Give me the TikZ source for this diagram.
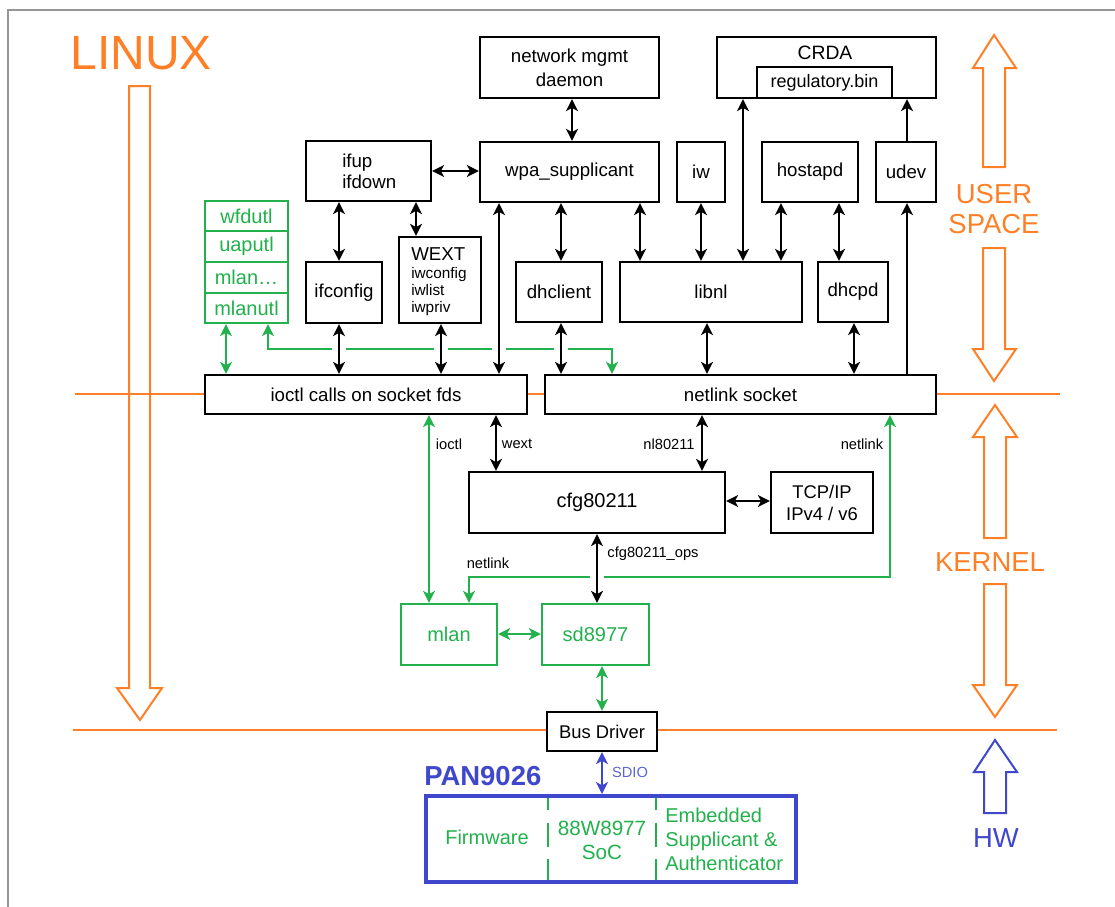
\documentclass[tikz,border=0pt]{standalone}
\usepackage{fontspec}
\setmainfont{Liberation Sans}
\usetikzlibrary{arrows.meta,fit}
\definecolor{org}{RGB}{255,127,39}
\definecolor{grn}{RGB}{34,177,76}
\definecolor{blu}{RGB}{63,72,204}
\definecolor{brd}{RGB}{150,150,150}
\begin{document}
\begin{tikzpicture}[x=0.75pt,y=-0.75pt,
  >={Stealth[length=9pt,width=9pt,inset=2.5pt]},
  box/.style={draw, line width=1.7pt, fill=white, inner sep=0pt},
  gbox/.style={box, draw=grn},
  btxt/.style={inner sep=0pt, align=center, font=\fontsize{14}{16.5}\selectfont},
  gtxt/.style={btxt, text=grn, font=\fontsize{15}{18}\selectfont},
  arr/.style={line width=1.5pt, <->},
  garr/.style={arr, grn},
  xgap/.style={preaction={draw=white, line width=10pt, -, shorten >=5pt, shorten <=5pt}},
  lbl/.style={font=\fontsize{11}{13}\selectfont, inner sep=0pt},
  side/.style={text=org, font=\fontsize{20.6}{23}\selectfont, align=center, inner sep=0pt},
  oarr/.style={draw=org, line width=1.5pt, line join=miter},
  barr/.style={draw=blu, line width=1.5pt, line join=miter},
  txt/.style={inner sep=0pt}
]
\useasboundingbox (0,0) rectangle (1115,907);
% frame
\draw[brd, line width=1.2pt] (8,907) -- (8,10) -- (1115,10);
% layer lines
\draw[org, line width=1.9pt] (75,394) -- (1060,394);
\draw[org, line width=1.9pt] (73,730) -- (1057,730);
% LINUX
\node[txt, text=org, font=\fontsize{36}{42}\selectfont] (linux) at (141,53) {LINUX};
\draw[oarr] (129,86) -- (150,86) -- (150,688) -- (162,688) -- (140,720) -- (117,688) -- (129,688) -- cycle;
% right side arrows
\draw[oarr] (983,167) -- (983,68) -- (973,68) -- (994,35) -- (1016,68) -- (1005,68) -- (1005,167) -- cycle;
\draw[oarr] (983,248) -- (1005,248) -- (1005,349) -- (1016,349) -- (994,381) -- (973,349) -- (983,349) -- cycle;
\node[side] (us) at (994,209) {USER\\SPACE};
\draw[oarr] (984,538) -- (984,437) -- (973,437) -- (995,405) -- (1017,437) -- (1006,437) -- (1006,538) -- cycle;
\node[side] (kern) at (990,562) {KERNEL};
\draw[oarr] (984,584) -- (1006,584) -- (1006,685) -- (1017,685) -- (995,717) -- (973,685) -- (984,685) -- cycle;
\draw[barr] (984,813) -- (984,772) -- (974,772) -- (995,740) -- (1017,772) -- (1006,772) -- (1006,813) -- cycle;
\node[side, text=blu] (hw) at (996,838) {HW};
% user space boxes
\node[box, fit={(480,37)(659,98)}] (nm) {};
\node[btxt, font=\fontsize{14}{18}\selectfont] at (nm.center) {network mgmt\\daemon};
\node[box, fit={(717,37)(936,98)}] (crda) {};
\node[box, fit={(757,67)(892,98)}] (reg) {};
\node[btxt, font=\fontsize{13.5}{16}\selectfont] at (reg.center) {regulatory.bin};
\node[btxt, font=\fontsize{14.5}{17}\selectfont] (crdat) at (825,53) {CRDA};
\node[box, fit={(306,141)(431,201)}] (ifup) {};
\node[btxt, align=left, anchor=west, font=\fontsize{14}{15.75}\selectfont] (ifupt) at (342,171) {ifup\\ifdown};
\node[box, fit={(480,142)(659,202)}] (wpa) {};
\node[btxt] at (wpa.center) {wpa\_supplicant};
\node[box, fit={(677,142)(725,202)}] (iw) {};
\node[btxt] at (iw.center) {iw};
\node[box, fit={(762,142)(858,202)}] (hostapd) {};
\node[btxt] at (hostapd.center) {hostapd};
\node[box, fit={(876,142)(936,202)}] (udev) {};
\node[btxt] at (udev.center) {udev};
\node[gbox, fit={(205,201)(288,231)}] (s1) {};
\node[gtxt] at (s1.center) {wfdutl};
\node[gbox, fit={(205,231)(288,262)}] (s2) {};
\node[gtxt] at (s2.center) {uaputl};
\node[gbox, fit={(205,262)(288,293)}] (s3) {};
\node[gtxt] at (s3.center) {mlan…};
\node[gbox, fit={(205,293)(288,323)}] (s4) {};
\node[gtxt] at (s4.center) {mlanutl};
\node[box, fit={(306,262)(382,323)}] (ifcfg) {};
\node[btxt] at (ifcfg.center) {ifconfig};
\node[box, fit={(399,237)(481,323)}] (wext) {};
\node[txt, anchor=base west, font=\fontsize{14}{16}\selectfont] (w1) at (411,260) {WEXT};
\node[txt, anchor=base west, font=\fontsize{11.5}{13.5}\selectfont] (w2) at (411,278) {iwconfig};
\node[txt, anchor=base west, font=\fontsize{11.5}{13.5}\selectfont] (w3) at (411,295) {iwlist};
\node[txt, anchor=base west, font=\fontsize{11.5}{13.5}\selectfont] (w4) at (411,312) {iwpriv};
\node[box, fit={(516,262)(602,322)}] (dhc) {};
\node[btxt] at (dhc.center) {dhclient};
\node[box, fit={(620,262)(802,322)}] (libnl) {};
\node[btxt] at (libnl.center) {libnl};
\node[box, fit={(818,262)(888,322)}] (dhcpd) {};
\node[btxt] at (dhcpd.center) {dhcpd};
\node[box, fit={(205,375)(527,414)}] (ioctl) {};
\node[btxt] at (ioctl.center) {ioctl calls on socket fds};
\node[box, fit={(545,375)(936,414)}] (nl) {};
\node[btxt] at (nl.center) {netlink socket};
% kernel
\node[box, fit={(469,472)(725,533)}] (cfg) {};
\node[btxt, font=\fontsize{15}{18}\selectfont] at (cfg.center) {cfg80211};
\node[box, fit={(771,472)(873,533)}] (tcp) {};
\node[btxt, font=\fontsize{13.8}{16.5}\selectfont] at (tcp.center) {TCP/IP\\IPv4 / v6};
\node[gbox, fit={(401,604)(497,665)}] (mlan) {};
\node[gtxt] at (mlan.center) {mlan};
\node[gbox, fit={(542,604)(649,665)}] (sd) {};
\node[gtxt] at (sd.center) {sd8977};
\node[box, fit={(547,712)(657,751)}] (bus) {};
\node[btxt, font=\fontsize{13.8}{16}\selectfont] at (bus.center) {Bus Driver};
% hardware
\node[txt, anchor=west, text=blu, font=\bfseries\fontsize{20.6}{23}\selectfont] (pant) at (424,776) {PAN9026};
\node[draw=blu, line width=3pt, fill=white, inner sep=0pt, fit={(426,796)(796,882)}] (pan) {};
\draw[grn, line width=1.7pt, dash pattern=on 18pt off 9.5pt, dash phase=9pt] (548,798) -- (548,880);
\draw[grn, line width=1.7pt, dash pattern=on 18pt off 9.5pt, dash phase=9pt] (656,798) -- (656,880);
\node[gtxt] (fw) at (487,837) {Firmware};
\node[gtxt, font=\fontsize{15.5}{18}\selectfont] (soc) at (602,840) {88W8977\\SoC};
\node[gtxt, align=left, anchor=west] (emb) at (665,839) {Embedded\\Supplicant \&\\Authenticator};
% green connectors
\draw[garr] (226,0 |- s4.south) -- (226,0 |- ioctl.north);
\draw[garr] (268,0 |- s4.south) -- (268,349) -| (612,0 |- nl.north);
\draw[garr] (429,0 |- ioctl.south) -- (429,0 |- mlan.north);
\draw[garr] (890,0 |- nl.south) |- (469,577) -- (469,0 |- mlan.north);
\draw[garr] (mlan.east |- 0,634) -- (sd.west |- 0,634);
\draw[garr] (602,0 |- sd.south) -- (602,0 |- bus.north);
\draw[arr, blu] (602,0 |- bus.south) -- (602,0 |- pan.north);
% black connectors
\draw[arr] (572,0 |- nm.south) -- (572,0 |- wpa.north);
\draw[arr] (ifup.east) -- (ifup.east -| wpa.west);
\draw[arr] (339,0 |- ifup.south) -- (339,0 |- ifcfg.north);
\draw[arr] (416,0 |- ifup.south) -- (416,0 |- wext.north);
\draw[arr, xgap] (499,0 |- wpa.south) -- (499,0 |- ioctl.north);
\draw[arr] (561,0 |- wpa.south) -- (561,0 |- dhc.north);
\draw[arr] (640,0 |- wpa.south) -- (640,0 |- libnl.north);
\draw[arr] (701,0 |- iw.south) -- (701,0 |- libnl.north);
\draw[arr] (743,0 |- crda.south) -- (743,0 |- libnl.north);
\draw[arr] (781,0 |- hostapd.south) -- (781,0 |- libnl.north);
\draw[arr] (839,0 |- hostapd.south) -- (839,0 |- dhcpd.north);
\draw[line width=1.5pt, ->] (907,0 |- udev.north) -- (907,0 |- crda.south);
\draw[line width=1.5pt, ->] (907,0 |- nl.north) -- (907,0 |- udev.south);
\draw[arr, xgap] (339,0 |- ifcfg.south) -- (339,0 |- ioctl.north);
\draw[arr, xgap] (441,0 |- wext.south) -- (441,0 |- ioctl.north);
\draw[arr, xgap] (561,0 |- dhc.south) -- (561,0 |- nl.north);
\draw[arr] (707,0 |- libnl.south) -- (707,0 |- nl.north);
\draw[arr] (854,0 |- dhcpd.south) -- (854,0 |- nl.north);
\draw[arr] (496,0 |- ioctl.south) -- (496,0 |- cfg.north);
\draw[arr] (702,0 |- nl.south) -- (702,0 |- cfg.north);
\draw[arr] (cfg.east |- 0,501) -- (tcp.west |- 0,501);
\draw[arr, xgap] (597,0 |- cfg.south) -- (597,0 |- sd.north);
% labels
\node[lbl] (l1) at (449,444) {ioctl};
\node[lbl] (l2) at (517,444) {wext};
\node[lbl] (l3) at (669,444) {nl80211};
\node[lbl] (l4) at (862,444) {netlink};
\node[lbl] (l5) at (488,563) {netlink};
\node[lbl] (l6) at (653,554) {cfg80211\_ops};
\node[lbl, text=blu!85] (l7) at (630,772) {SDIO};
\end{tikzpicture}
\end{document}
